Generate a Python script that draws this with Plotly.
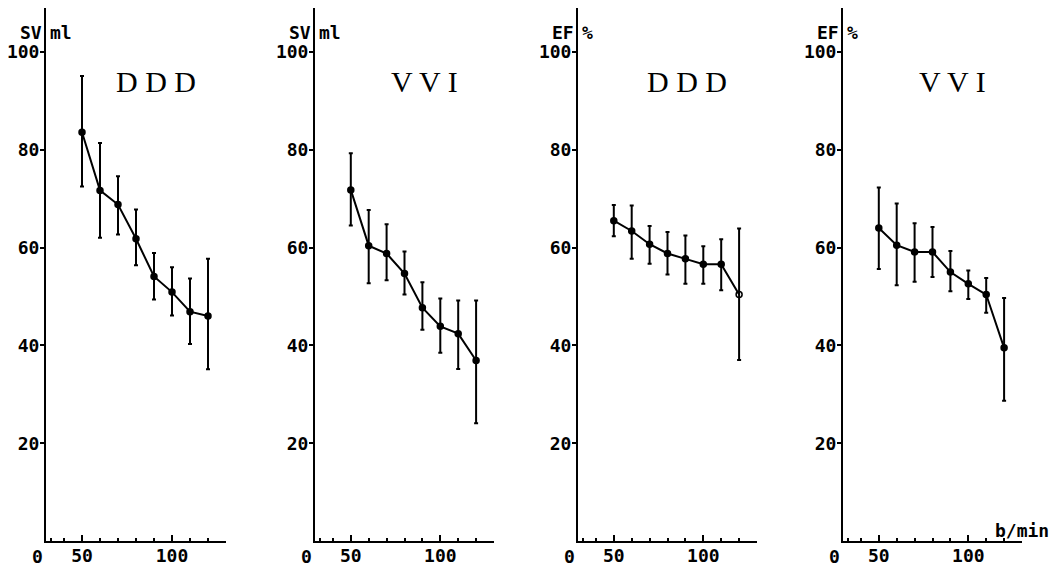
import plotly.graph_objects as go

# ---- data ----
heart_rate = [50, 60, 70, 80, 90, 100, 110, 120]

sv_ddd = [83.6, 71.7, 68.8, 61.8, 54.1, 50.9, 46.9, 46.0]
sv_ddd_hi = [95.1, 81.4, 74.6, 67.8, 58.9, 56.0, 53.7, 57.7]
sv_ddd_lo = [72.5, 62.0, 62.7, 56.4, 49.4, 46.1, 40.3, 35.1]

sv_vvi = [71.8, 60.4, 58.8, 54.7, 47.7, 43.9, 42.4, 36.9]
sv_vvi_hi = [79.3, 67.7, 64.8, 59.2, 52.9, 49.6, 49.2, 49.2]
sv_vvi_lo = [64.5, 52.7, 53.3, 50.4, 43.2, 38.5, 35.2, 24.1]

ef_ddd = [65.5, 63.4, 60.7, 58.8, 57.7, 56.6, 56.6, 50.4]
ef_ddd_hi = [68.7, 68.6, 64.4, 63.2, 62.5, 60.3, 61.7, 63.9]
ef_ddd_lo = [62.3, 57.7, 56.7, 54.5, 52.6, 52.6, 51.3, 37.0]

ef_vvi = [64.0, 60.5, 59.1, 59.1, 55.0, 52.6, 50.4, 39.5]
ef_vvi_hi = [72.3, 69.0, 65.0, 64.2, 59.3, 55.3, 53.8, 49.7]
ef_vvi_lo = [55.6, 52.3, 53.0, 54.0, 51.1, 49.5, 46.7, 28.7]

panel_titles = ["D D D", "V V I", "D D D", "V V I"]
y_names = [("SV", "ml"), ("SV", "ml"), ("EF", "%"), ("EF", "%")]
y_ticks = [20, 40, 60, 80, 100]
x_major_ticks = [50, 100]
x_minor_ticks = [33, 40, 60, 70, 80, 90, 110, 120]
x_unit = "b/min"

series = [
    (sv_ddd, sv_ddd_hi, sv_ddd_lo),
    (sv_vvi, sv_vvi_hi, sv_vvi_lo),
    (ef_ddd, ef_ddd_hi, ef_ddd_lo),
    (ef_vvi, ef_vvi_hi, ef_vvi_lo),
]

# ---- layout geometry (figure pixels; page has an 8 px body margin) ----
W, H = 1056, 563
x_px = [(38, 218), (307, 486), (570, 749), (835, 1014)]
y_top_px, y_bot_px = 0, 533

MONO = "DejaVu Sans Mono"
SERIF = "Liberation Serif"
FS = 18

fig = go.Figure()
layout = dict(
    width=W, height=H,
    margin=dict(l=0, r=0, t=0, b=0, autoexpand=False),
    paper_bgcolor="white", plot_bgcolor="white",
    showlegend=False,
    annotations=[],
)

for i, (vals, hi, lo) in enumerate(series):
    n = "" if i == 0 else str(i + 1)
    plus = [h - v for h, v in zip(hi, vals)]
    minus = [v - l for v, l in zip(vals, lo)]
    symbols = ["circle"] * len(vals)
    if i == 2:
        symbols[-1] = "circle-open"
    fig.add_trace(go.Scatter(
        x=heart_rate, y=vals, mode="lines+markers",
        xaxis="x" + n, yaxis="y" + n,
        line=dict(color="black", width=2),
        marker=dict(color="black", size=6, symbol=symbols,
                    line=dict(color="black", width=1.5)),
        error_y=dict(type="data", symmetric=False, array=plus, arrayminus=minus,
                     color="black", thickness=2, width=2),
        cliponaxis=False,
    ))
    x0, x1 = x_px[i]
    layout["xaxis" + n] = dict(
        domain=[x0 / W, x1 / W], anchor="y" + n, automargin=False,
        range=[30, 130], showgrid=False, zeroline=False,
        showline=True, linecolor="black", linewidth=2,
        tickvals=x_major_ticks, ticktext=[str(v) for v in x_major_ticks],
        ticks="inside", ticklen=6, tickwidth=2, tickcolor="black",
        ticklabelstandoff=-3,
        minor=dict(tickvals=x_minor_ticks, ticks="inside", ticklen=3,
                   tickwidth=2, tickcolor="black"),
        tickfont=dict(family=MONO, size=FS, color="black", weight="bold"),
        fixedrange=True,
    )
    layout["yaxis" + n] = dict(
        domain=[1 - y_bot_px / H, 1 - y_top_px / H], anchor="x" + n,
        automargin=False,
        range=[0, 109], showgrid=False, zeroline=False,
        showline=True, linecolor="black", linewidth=2,
        tickvals=y_ticks, ticks="outside", ticklen=4, tickwidth=2,
        tickcolor="black", ticklabelstandoff=-3,
        tickfont=dict(family=MONO, size=FS, color="black", weight="bold"),
        fixedrange=True,
    )
    xr, yr = "x" + n, "y" + n
    # panel title
    layout["annotations"].append(dict(
        text=panel_titles[i], xref=xr, yref=yr, x=91, y=94,
        showarrow=False, font=dict(family=SERIF, size=30, color="black")))
    # y-axis name split by the axis line
    left, right = y_names[i]
    layout["annotations"].append(dict(
        text=left, xref=xr + " domain", yref=yr, x=0, y=104, xanchor="right",
        xshift=-2, showarrow=False,
        font=dict(family=MONO, size=FS, color="black", weight="bold")))
    layout["annotations"].append(dict(
        text=right, xref=xr + " domain", yref=yr, x=0, y=104, xanchor="left",
        xshift=2, showarrow=False,
        font=dict(family=MONO, size=FS, color="black", weight="bold")))
    # broken-axis zero label
    layout["annotations"].append(dict(
        text="0", xref=xr + " domain", yref=yr + " domain", x=-0.05, y=0,
        xanchor="center", yanchor="top", yshift=-3, showarrow=False,
        font=dict(family=MONO, size=FS, color="black", weight="bold")))

layout["annotations"].append(dict(
    text=x_unit, xref="x4 domain", yref="y4 domain", x=1.0, y=0,
    xanchor="center", yanchor="bottom", yshift=-2, showarrow=False,
    font=dict(family=MONO, size=FS, color="black", weight="bold")))

fig.update_layout(**layout)
fig.write_html("out.html")
